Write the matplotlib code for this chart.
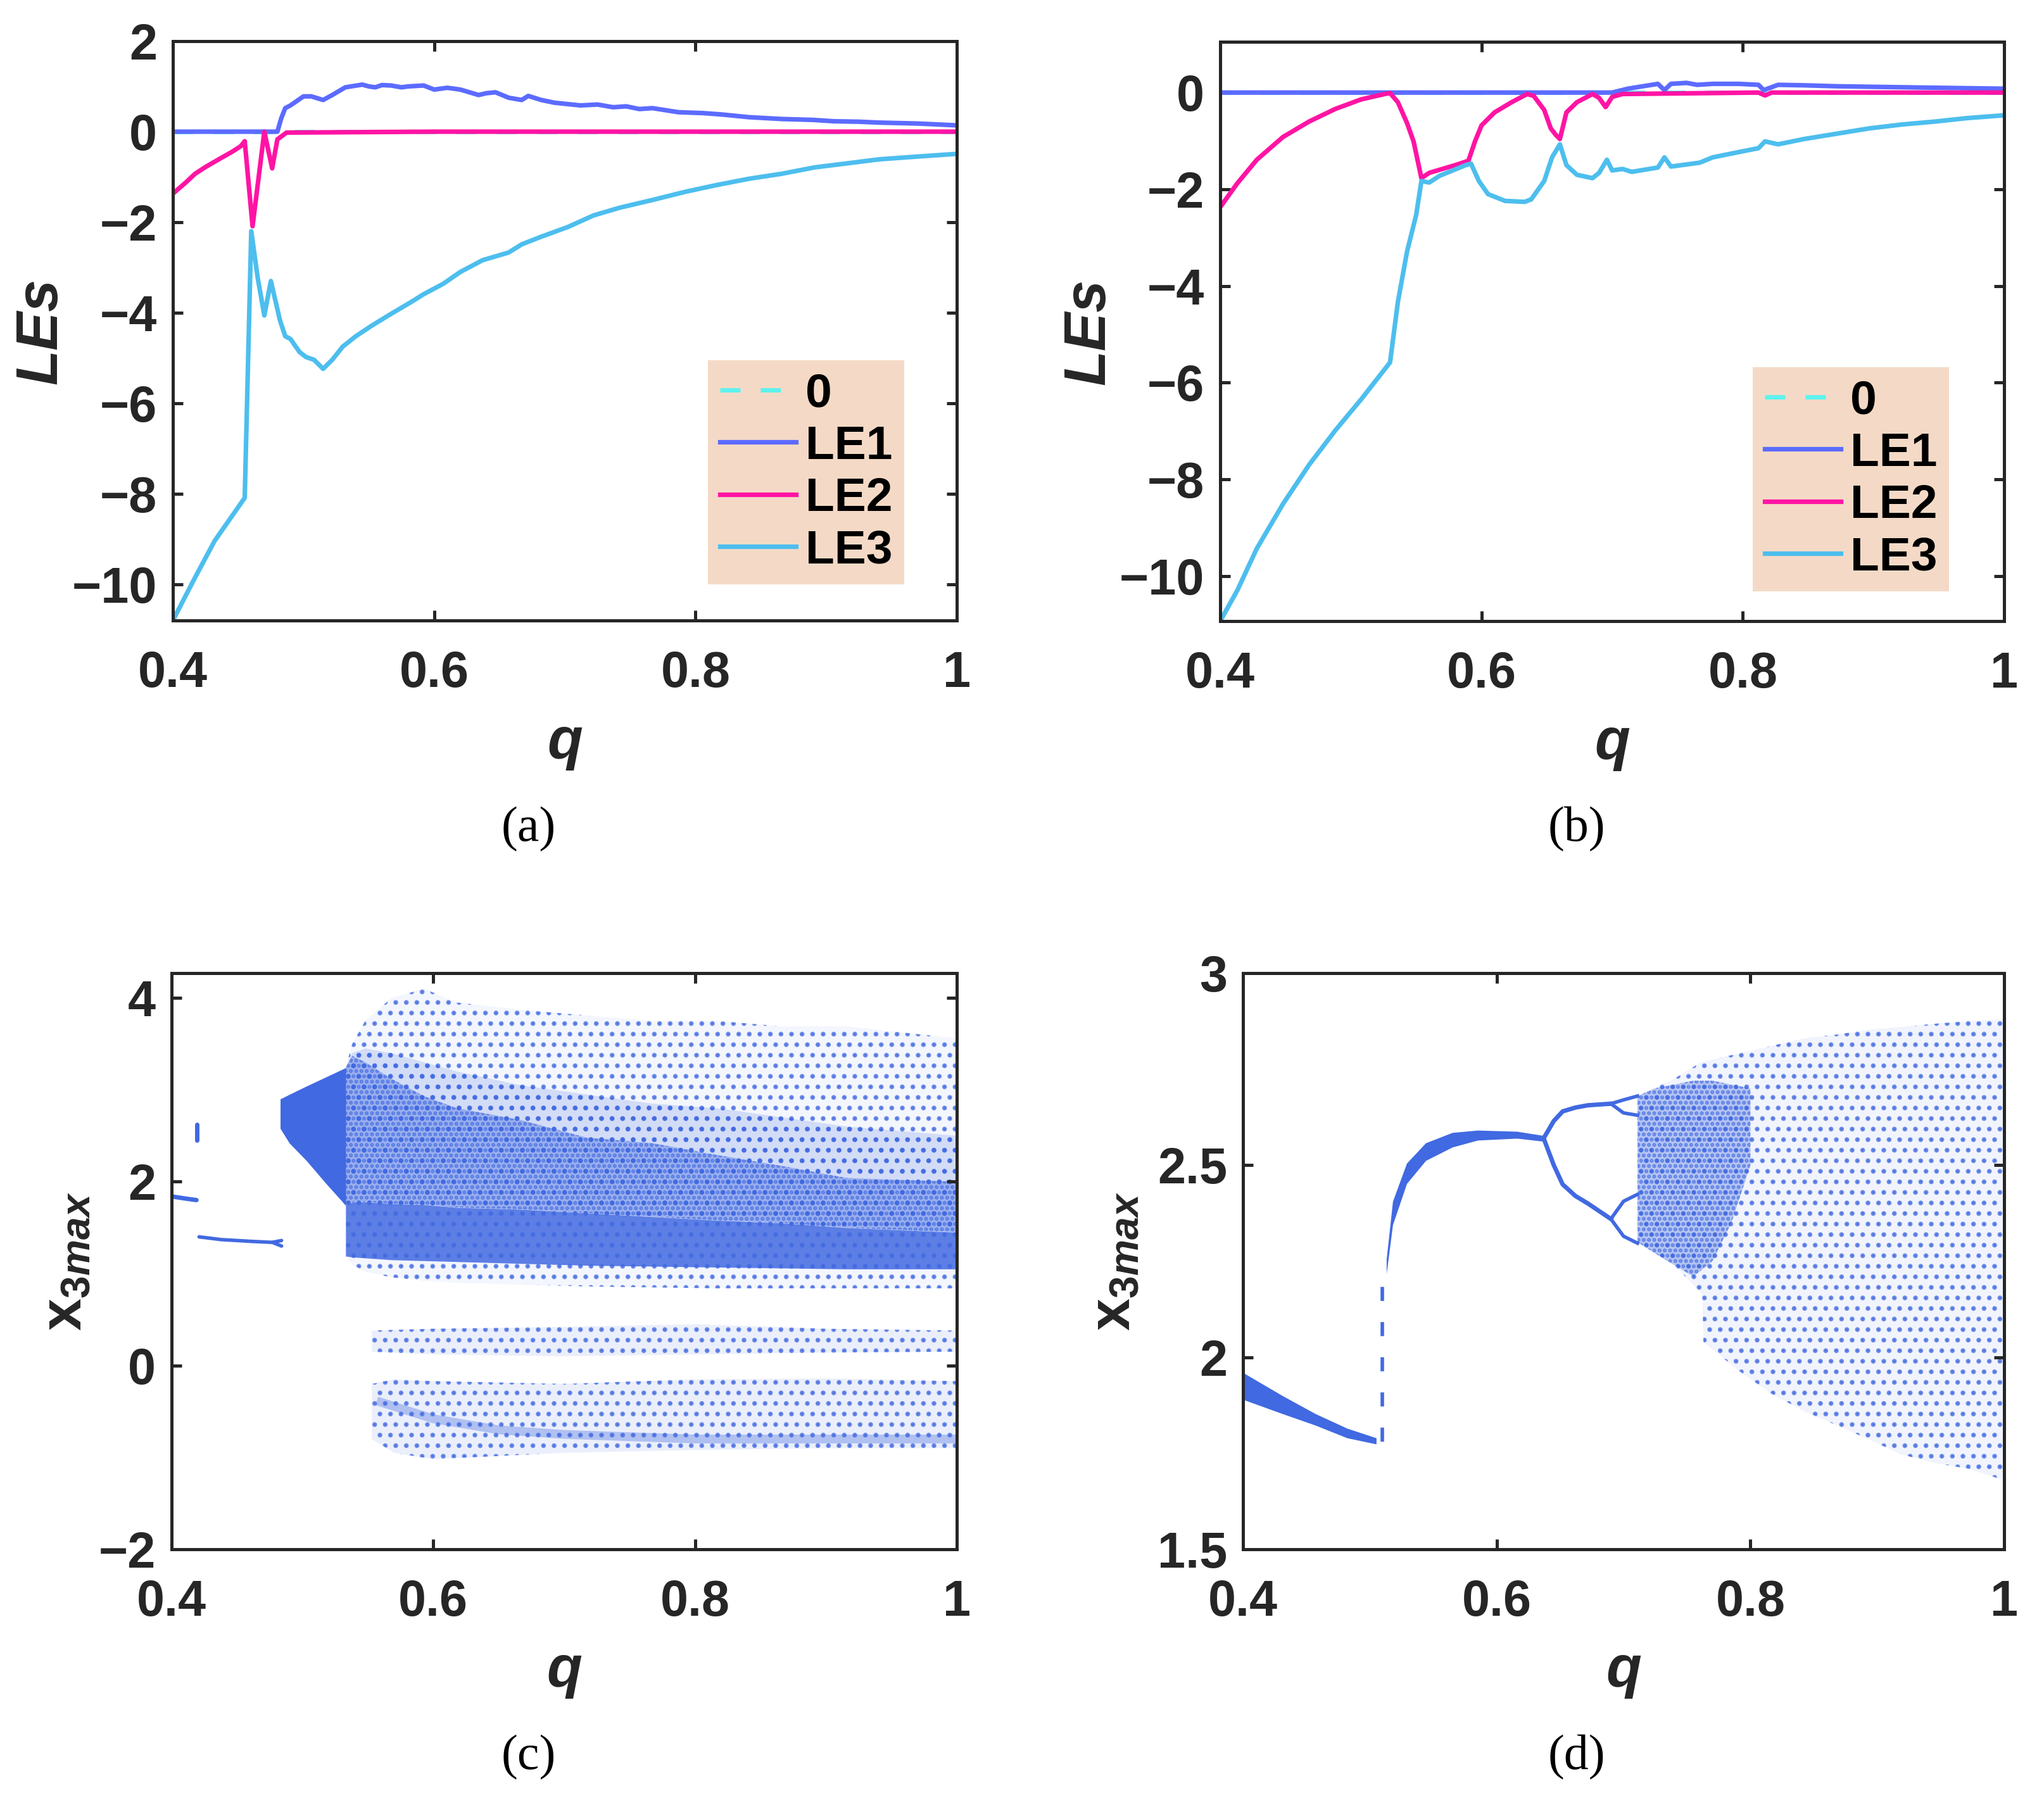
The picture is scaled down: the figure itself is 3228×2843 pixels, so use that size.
import numpy as np
import matplotlib
matplotlib.use('Agg')
import matplotlib.pyplot as plt

#############################  data  #############################

# (a) Lyapunov exponents
qa_le1 = [0.400, 0.480, 0.483, 0.486, 0.490, 0.500, 0.506, 0.515, 0.522, 0.532, 0.545, 0.550, 0.555, 0.560,
          0.567, 0.575, 0.580, 0.592, 0.600, 0.610, 0.620, 0.627, 0.634, 0.640, 0.647, 0.657, 0.667, 0.672,
          0.682, 0.692, 0.712, 0.725, 0.737, 0.747, 0.757, 0.767, 0.787, 0.806, 0.820, 0.841, 0.866, 0.890,
          0.906, 0.925, 0.941, 0.970, 1.000]
le1_a = [0.00, 0.00, 0.30, 0.52, 0.58, 0.78, 0.78, 0.70, 0.81, 0.98, 1.04, 1.00, 0.98, 1.03,
         1.02, 0.98, 1.00, 1.02, 0.93, 0.97, 0.93, 0.87, 0.81, 0.85, 0.87, 0.75, 0.70, 0.79,
         0.70, 0.64, 0.58, 0.60, 0.54, 0.56, 0.50, 0.52, 0.43, 0.41, 0.38, 0.32, 0.28, 0.26,
         0.23, 0.22, 0.20, 0.18, 0.14]

qa_le2 = [0.400, 0.410, 0.417, 0.425, 0.437, 0.445, 0.452, 0.455, 0.461, 0.470, 0.476, 0.480, 0.487, 0.600, 1.000]
le2_a = [-1.37, -1.12, -0.93, -0.78, -0.58, -0.45, -0.32, -0.21, -2.09, 0.00, -0.81, -0.17, -0.02, 0.00, 0.00]

qa_le3 = [0.400, 0.417, 0.432, 0.455, 0.460, 0.465, 0.470, 0.475, 0.482, 0.486, 0.490, 0.497, 0.502, 0.508,
          0.515, 0.522, 0.530, 0.540, 0.552, 0.565, 0.582, 0.592, 0.607, 0.620, 0.637, 0.657, 0.667, 0.682,
          0.702, 0.722, 0.742, 0.767, 0.792, 0.816, 0.841, 0.866, 0.891, 0.916, 0.941, 0.965, 1.000]
le3_a = [-10.80, -9.85, -9.04, -8.09, -2.20, -3.24, -4.06, -3.30, -4.17, -4.52, -4.58, -4.87, -4.98, -5.04,
         -5.24, -5.04, -4.75, -4.52, -4.29, -4.06, -3.77, -3.59, -3.36, -3.10, -2.84, -2.67, -2.49, -2.32,
         -2.11, -1.85, -1.68, -1.51, -1.33, -1.18, -1.04, -0.93, -0.79, -0.70, -0.61, -0.56, -0.49]

# (b) Lyapunov exponents
qb_le1 = [0.400, 0.700, 0.712, 0.735, 0.740, 0.745, 0.757, 0.765, 0.777, 0.797, 0.812, 0.816, 0.827,
          0.847, 0.872, 0.897, 0.947, 1.000]
le1_b = [0.00, 0.00, 0.08, 0.18, 0.05, 0.18, 0.20, 0.16, 0.18, 0.18, 0.16, 0.05, 0.16,
         0.15, 0.13, 0.12, 0.10, 0.08]

qb_le2 = [0.400, 0.413, 0.428, 0.448, 0.468, 0.488, 0.508, 0.526, 0.530, 0.536, 0.543, 0.548, 0.554,
          0.560, 0.570, 0.580, 0.590, 0.595, 0.600, 0.610, 0.623, 0.635, 0.640, 0.648, 0.653, 0.657,
          0.660, 0.665, 0.673, 0.685, 0.690, 0.695, 0.700, 0.708, 0.812, 0.817, 0.822, 1.000]
le2_b = [-2.37, -1.88, -1.39, -0.92, -0.60, -0.34, -0.14, -0.03, -0.01, -0.20, -0.63, -1.01, -1.77,
         -1.66, -1.58, -1.50, -1.41, -1.01, -0.68, -0.41, -0.20, -0.03, -0.07, -0.36, -0.74, -0.88,
         -0.96, -0.41, -0.20, -0.03, -0.11, -0.30, -0.09, -0.03, 0.00, -0.06, 0.00, 0.00]

qb_le3 = [0.400, 0.413, 0.428, 0.448, 0.468, 0.488, 0.508, 0.530, 0.536, 0.543, 0.550, 0.554, 0.560,
          0.568, 0.578, 0.588, 0.592, 0.598, 0.605, 0.618, 0.633, 0.638, 0.648, 0.654, 0.660, 0.665,
          0.673, 0.685, 0.690, 0.696, 0.700, 0.708, 0.715, 0.735, 0.740, 0.745, 0.767, 0.777, 0.797,
          0.812, 0.817, 0.827, 0.847, 0.872, 0.897, 0.922, 0.947, 0.971, 1.000]
le3_b = [-10.93, -10.30, -9.43, -8.51, -7.70, -6.99, -6.34, -5.58, -4.33, -3.29, -2.53, -1.83, -1.86,
         -1.72, -1.61, -1.50, -1.47, -1.83, -2.10, -2.24, -2.26, -2.21, -1.83, -1.34, -1.07, -1.50,
         -1.70, -1.77, -1.66, -1.39, -1.61, -1.58, -1.64, -1.55, -1.34, -1.53, -1.45, -1.34, -1.23,
         -1.15, -1.01, -1.07, -0.96, -0.85, -0.74, -0.66, -0.60, -0.53, -0.47]

# (c) bifurcation diagram, q in [0.4, 1]
c_br1_q = [0.400, 0.409, 0.419]
c_br1_x = [1.84, 1.82, 1.80]
c_blip_q = [0.4195, 0.4195]
c_blip_x = [2.45, 2.62]
c_br2_q = [0.421, 0.438, 0.462, 0.477, 0.484]
c_br2_x = [1.40, 1.37, 1.35, 1.34, 1.36]
c_fork_q = [0.477, 0.484]
c_fork_x = [1.34, 1.30]

c_fan_q = [0.483, 0.490, 0.503, 0.518, 0.530, 0.533]
c_fan_hi = [2.90, 2.95, 3.04, 3.14, 3.22, 3.24]
c_fan_lo = [2.58, 2.42, 2.23, 1.98, 1.79, 1.74]

c_q = [0.533, 0.538, 0.548, 0.568, 0.593, 0.618, 0.667, 0.717, 0.767, 0.817, 0.867, 0.916, 1.000]
c_sparse_hi = [3.24, 3.50, 3.75, 4.00, 4.10, 3.95, 3.87, 3.81, 3.75, 3.75, 3.69, 3.69, 3.56]
c_mid_hi = [3.24, 3.40, 3.45, 3.40, 3.30, 3.20, 3.05, 2.95, 2.85, 2.80, 2.70, 2.60, 2.50]
c_dense_hi = [3.24, 3.37, 3.30, 3.12, 2.93, 2.80, 2.67, 2.48, 2.42, 2.29, 2.17, 2.04, 2.00]
c_core_hi = [1.75, 1.78, 1.78, 1.76, 1.75, 1.72, 1.70, 1.66, 1.62, 1.58, 1.55, 1.50, 1.45]
c_core_lo = [1.19, 1.18, 1.17, 1.15, 1.14, 1.13, 1.11, 1.09, 1.08, 1.07, 1.06, 1.05, 1.05]
c_sparse_lo = [1.19, 1.10, 1.02, 0.96, 0.92, 0.90, 0.88, 0.86, 0.85, 0.84, 0.84, 0.84, 0.84]

c_band_q = [0.553, 0.600, 0.700, 0.800, 0.900, 1.000]
c_band_hi = [0.38, 0.40, 0.42, 0.45, 0.40, 0.38]
c_band_lo = [0.15, 0.12, 0.10, 0.12, 0.14, 0.15]

c_low_q = [0.553, 0.570, 0.600, 0.700, 0.800, 0.900, 1.000]
c_low_hi = [-0.20, -0.15, -0.17, -0.20, -0.15, -0.14, -0.17]
c_low_lo = [-0.80, -0.95, -1.02, -0.95, -0.92, -0.90, -0.90]
c_streak_q = [0.560, 0.600, 0.650, 0.700, 0.800, 0.900, 1.000]
c_streak_x = [-0.40, -0.58, -0.70, -0.75, -0.80, -0.80, -0.80]

# (d) bifurcation diagram
d_p1_q = [0.400, 0.431, 0.457, 0.482, 0.505]
d_p1_hi = [1.96, 1.90, 1.853, 1.815, 1.79]
d_p1_lo = [1.89, 1.853, 1.823, 1.79, 1.774]
d_jump_q = [0.510, 0.510]
d_jump_x = [1.78, 2.23]
d_p2_q = [0.513, 0.518, 0.529, 0.544, 0.565, 0.585, 0.616, 0.637]
d_p2_hi = [2.255, 2.406, 2.505, 2.558, 2.585, 2.591, 2.588, 2.577]
d_p2_lo = [2.217, 2.345, 2.452, 2.512, 2.547, 2.565, 2.570, 2.562]
d_up_q = [0.637, 0.645, 0.652, 0.662, 0.672, 0.690]
d_up_x = [2.570, 2.615, 2.640, 2.650, 2.656, 2.660]
d_dn_q = [0.637, 0.645, 0.652, 0.662, 0.672, 0.690]
d_dn_x = [2.570, 2.500, 2.450, 2.420, 2.400, 2.360]
d_b4_q = [0.690, 0.700, 0.711]
d_b4_a = [2.660, 2.670, 2.680]
d_b4_b = [2.660, 2.636, 2.630]
d_b4_c = [2.360, 2.406, 2.424]
d_b4_d = [2.360, 2.315, 2.297]

d_ch_q = [0.711, 0.740, 0.762, 0.763, 0.790, 0.816, 0.842, 0.868, 0.894, 0.919, 0.945, 0.971, 1.000]
d_ch_hi = [2.68, 2.725, 2.77, 2.77, 2.79, 2.81, 2.83, 2.84, 2.853, 2.86, 2.868, 2.875, 2.88]
d_ch_lo = [2.30, 2.24, 2.164, 2.04, 1.967, 1.906, 1.86, 1.823, 1.785, 1.747, 1.725, 1.71, 1.68]
d_ws_q = [0.711, 0.725, 0.740, 0.755, 0.770, 0.785, 0.800]
d_ws_hi = [2.68, 2.70, 2.71, 2.72, 2.72, 2.71, 2.70]
d_ws_lo = [2.30, 2.27, 2.24, 2.21, 2.25, 2.35, 2.50]

#############################  style  #############################

TXT = '#262626'
C_LE1 = '#5C6BFF'
C_LE2 = '#FF14A4'
C_LE3 = '#4DBEEE'
C_ZERO = '#5EF2EE'
C_DOT = '#4169E1'
RGB_DOT = (0.255, 0.412, 0.882)

plt.rcParams['font.family'] = ['Liberation Sans', 'DejaVu Sans']
plt.rcParams['font.weight'] = 'bold'
plt.rcParams['mathtext.fontset'] = 'custom'
plt.rcParams['mathtext.rm'] = 'Liberation Sans:bold'
plt.rcParams['mathtext.bf'] = 'Liberation Sans:bold'
plt.rcParams['mathtext.it'] = 'Liberation Sans:italic:bold'
plt.rcParams['hatch.linewidth'] = 3.0

fig = plt.figure(figsize=(32.28, 28.43), dpi=100)

W, H = 3228.0, 2843.0
def place(l, r, t, b):
    return [l / W, 1 - b / H, (r - l) / W, (b - t) / H]

ax_a = fig.add_axes(place(273, 1511, 65, 980))
ax_b = fig.add_axes(place(1927, 3165, 66, 981))
ax_c = fig.add_axes(place(271, 1511, 1537, 2447))
ax_d = fig.add_axes(place(1963, 3165, 1537, 2447))


def style_axes(ax):
    for s in ax.spines.values():
        s.set_linewidth(3.6)
        s.set_color(TXT)
    ax.tick_params(direction='in', length=11.5, width=3.6, color=TXT, labelcolor=TXT,
                   labelsize=57, top=True, right=True)
    ax.tick_params(axis='x', pad=34)
    ax.tick_params(axis='y', pad=18)
    ax.set_xlim(0.4, 1)
    ax.set_xticks([0.4, 0.6, 0.8, 1.0])
    ax.set_xticklabels(['0.4', '0.6', '0.8', '1'])
    ax.set_xlabel('q', fontsize=66, fontweight='bold', fontstyle='italic', color=TXT)
    ax.xaxis.set_label_coords(0.5, -0.165)


def lyap(ax, q1, l1, q2, l2, q3, l3, ylim, yticks, lab_x, leg_xy):
    ax.plot([0.4, 1.0], [0, 0], color=C_ZERO, lw=5, ls=(0, (4.6, 4.6)), label='0')
    ax.plot(q1, l1, color=C_LE1, lw=5.2, label='LE1')
    ax.plot(q2, l2, color=C_LE2, lw=5.2, label='LE2')
    ax.plot(q3, l3, color=C_LE3, lw=5.2, label='LE3')
    style_axes(ax)
    ax.set_ylim(*ylim)
    ax.set_yticks(yticks)
    ax.set_ylabel('LEs', fontsize=66, fontweight='bold', fontstyle='italic', color=TXT)
    ax.yaxis.set_label_coords(lab_x, 0.5)
    leg = ax.legend(loc='lower right', bbox_to_anchor=leg_xy, borderaxespad=0, fontsize=54,
                    frameon=True, fancybox=False, framealpha=1, handlelength=1.6,
                    handletextpad=0.2, borderpad=0.25, labelspacing=0.18)
    leg.get_frame().set_facecolor('#F4DAC6')
    leg.get_frame().set_edgecolor('none')
    for t in leg.get_texts():
        t.set_color('black')


lyap(ax_a, qa_le1, le1_a, qa_le2, le2_a, qa_le3, le3_a, (-10.8, 2), [-10, -8, -6, -4, -2, 0, 2],
     -0.133, (0.933, 0.062))
lyap(ax_b, qb_le1, le1_b, qb_le2, le2_b, qb_le3, le3_b, (-10.93, 1.05), [-10, -8, -6, -4, -2, 0],
     -0.132, (0.930, 0.051))


def cloud(ax, q, lo, hi, face_alpha, hatch):
    ax.fill_between(q, lo, hi, facecolor=RGB_DOT + (face_alpha,),
                    edgecolor=RGB_DOT + (0.75,), hatch=hatch, linewidth=0)


# (c)
ax = ax_c
ax.plot(c_br1_q, c_br1_x, color=C_DOT, lw=5, solid_capstyle='round')
ax.plot(c_blip_q, c_blip_x, color=C_DOT, lw=5, solid_capstyle='round')
ax.plot(c_br2_q, c_br2_x, color=C_DOT, lw=4, solid_capstyle='round')
ax.plot(c_fork_q, c_fork_x, color=C_DOT, lw=4, solid_capstyle='round')
ax.fill_between(c_fan_q, c_fan_lo, c_fan_hi, color=C_DOT, lw=0)
cloud(ax, c_q, c_sparse_lo, c_sparse_hi, 0.06, '.')
cloud(ax, c_q, c_core_hi, c_mid_hi, 0.18, '.')
cloud(ax, c_q, c_core_hi, c_dense_hi, 0.40, '..')
ax.fill_between(c_q, c_core_lo, c_core_hi, color=C_DOT, alpha=0.85, lw=0)
cloud(ax, c_band_q, c_band_lo, c_band_hi, 0.10, '.')
cloud(ax, c_low_q, c_low_lo, c_low_hi, 0.10, '.')
ax.plot(c_streak_q, c_streak_x, color=C_DOT, lw=10, alpha=0.35)
style_axes(ax)
ax.set_ylim(-2, 4.27)
ax.set_yticks([-2, 0, 2, 4])
ax.set_ylabel(r'$\mathrm{x}_{\mathit{3max}}$', fontsize=66, color=TXT)
ax.yaxis.set_label_coords(-0.100, 0.5)

# (d)
ax = ax_d
ax.fill_between(d_p1_q, d_p1_lo, d_p1_hi, color=C_DOT, lw=0)
ax.plot(d_jump_q, d_jump_x, color=C_DOT, lw=4, ls=(0, (4, 6)))
ax.fill_between(d_p2_q, d_p2_lo, d_p2_hi, color=C_DOT, lw=0)
ax.plot(d_up_q, d_up_x, color=C_DOT, lw=5)
ax.plot(d_dn_q, d_dn_x, color=C_DOT, lw=5)
for br in (d_b4_a, d_b4_b, d_b4_c, d_b4_d):
    ax.plot(d_b4_q, br, color=C_DOT, lw=4)
cloud(ax, d_ch_q, d_ch_lo, d_ch_hi, 0.07, '.')
cloud(ax, d_ws_q, d_ws_lo, d_ws_hi, 0.35, '..')
style_axes(ax)
ax.set_ylim(1.5, 3)
ax.set_yticks([1.5, 2, 2.5, 3])
ax.set_yticklabels(['1.5', '2', '2.5', '3'])
ax.set_ylabel(r'$\mathrm{x}_{\mathit{3max}}$', fontsize=66, color=TXT)
ax.yaxis.set_label_coords(-0.133, 0.5)

# captions
for lab, x, y in [('(a)', 835, 1310), ('(b)', 2490, 1310), ('(c)', 835, 2776), ('(d)', 2490, 2776)]:
    fig.text(x / W, 1 - y / H, lab, fontsize=56, fontweight='normal', family='Liberation Serif',
             ha='center', va='center', color='black')

fig.savefig('out.png', dpi=100)
